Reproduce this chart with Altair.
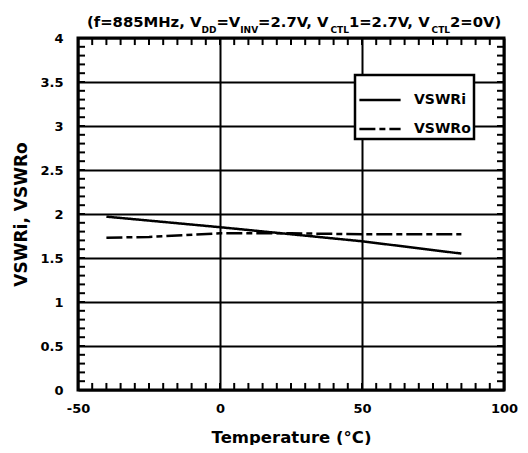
import altair as alt
import pandas as pd

# ---- data ----
temp_i = [-40, 0, 25, 50, 85]
vswr_i = [1.97, 1.85, 1.77, 1.69, 1.55]
temp_o = [-40, -25, 0, 25, 50, 85]
vswr_o = [1.73, 1.74, 1.78, 1.78, 1.77, 1.77]
series_names = ["VSWRi", "VSWRo"]
x_major = [-50, 0, 50, 100]
y_major = [0, 0.5, 1, 1.5, 2, 2.5, 3, 3.5, 4]
x_minor = list(range(-50, 101, 5))
y_minor = [round(i * 0.1, 1) for i in range(0, 41)]

title_segments = [
    ("(f=885MHz, V", False), ("DD", True), ("=V", False), ("INV", True),
    ("=2.7V, V", False), ("CTL", True), ("1=2.7V, V", False), ("CTL", True),
    ("2=0V)", False),
]

FONT = "DejaVu Sans"
W, H = 426, 352
XD, YD = [-50, 100], [0, 4]

df = pd.concat([
    pd.DataFrame({"T": temp_i, "V": vswr_i, "s": series_names[0]}),
    pd.DataFrame({"T": temp_o, "V": vswr_o, "s": series_names[1]}),
])

xs = alt.Scale(domain=XD, nice=False, zero=False)
ys = alt.Scale(domain=YD, nice=False, zero=False)

lines = alt.Chart(df).mark_line(color="black", strokeWidth=2.5).encode(
    x=alt.X("T:Q", scale=xs, axis=alt.Axis(
        values=x_major, grid=True, ticks=False, domain=False,
        labelExpr="datum.value + ''",
        title="Temperature (°C)", titleFontSize=16.5, titlePadding=14,
        labelPadding=12, labelFlush=False)),
    y=alt.Y("V:Q", scale=ys, axis=alt.Axis(
        values=y_major, grid=True, ticks=False, domain=False,
        labelExpr="datum.value + ''",
        title="VSWRi, VSWRo", titleFontSize=17, titlePadding=9,
        labelPadding=15)),
    strokeDash=alt.StrokeDash("s:N", scale=alt.Scale(
        domain=series_names, range=[[1, 0], [16, 4, 6, 4]]),
        legend=alt.Legend(title=None, orient="none", legendX=277, legendY=37,
                          symbolType="stroke", symbolSize=1700,
                          symbolStrokeWidth=2.5, symbolStrokeColor="black",
                          labelFontSize=14, labelFont=FONT,
                          labelFontWeight="bold", labelColor="black",
                          padding=3, rowPadding=0, labelOffset=12,
                          fillColor="white", strokeColor="black")),
)

# minor ticks (inward) on all four sides, length as a fraction of each range
fx = 0.0165 * (XD[1] - XD[0])
fy = 0.02 * (YD[1] - YD[0])
rows = []
for t in x_minor:
    rows.append({"x": t, "x2": t, "y": YD[0], "y2": YD[0] + fy})
    rows.append({"x": t, "x2": t, "y": YD[1], "y2": YD[1] - fy})
for v in y_minor:
    rows.append({"x": XD[0], "x2": XD[0] + fx, "y": v, "y2": v})
    rows.append({"x": XD[1], "x2": XD[1] - fx, "y": v, "y2": v})
ticks = alt.Chart(pd.DataFrame(rows)).mark_rule(strokeWidth=2, color="black").encode(
    x=alt.X("x:Q", scale=xs), x2="x2:Q",
    y=alt.Y("y:Q", scale=ys), y2="y2:Q",
)

# title built from pieces with subscripts
adv = {" ": .348, "(": .457, ")": .457, ",": .380, ".": .380, "=": .838,
       "C": .734, "D": .830, "H": .837, "I": .372, "L": .637, "M": .995,
       "N": .837, "T": .682, "V": .774, "f": .435, "z": .583}
MAIN, SUB = 14.8, 9
title_layers = []
xpos = 9
for txt, sub in title_segments:
    size = SUB if sub else MAIN
    title_layers.append(alt.Chart(pd.DataFrame({"t": [txt]})).mark_text(
        align="left", baseline="alphabetic", font=FONT, fontWeight="bold",
        fontSize=size, color="black"
    ).encode(text="t:N", x=alt.value(xpos), y=alt.value(-5 if sub else -11)))
    xpos += sum(adv.get(c, .696) for c in txt) * size

chart = alt.layer(lines, ticks, *title_layers).properties(
    width=W, height=H,
    autosize=alt.AutoSizeParams(type="none"),
    padding={"left": 70, "top": 30, "right": 16, "bottom": 55},
).configure_view(stroke="black", strokeWidth=3).configure_axis(
    gridColor="black", gridWidth=2, gridOpacity=1,
    labelFont=FONT, labelFontSize=13, labelFontWeight="bold", labelColor="black",
    titleFont=FONT, titleFontWeight="bold", titleColor="black",
).configure_legend(strokeWidth=2.5)

chart.save("out.html", embed_options={"renderer": "svg", "actions": False})
